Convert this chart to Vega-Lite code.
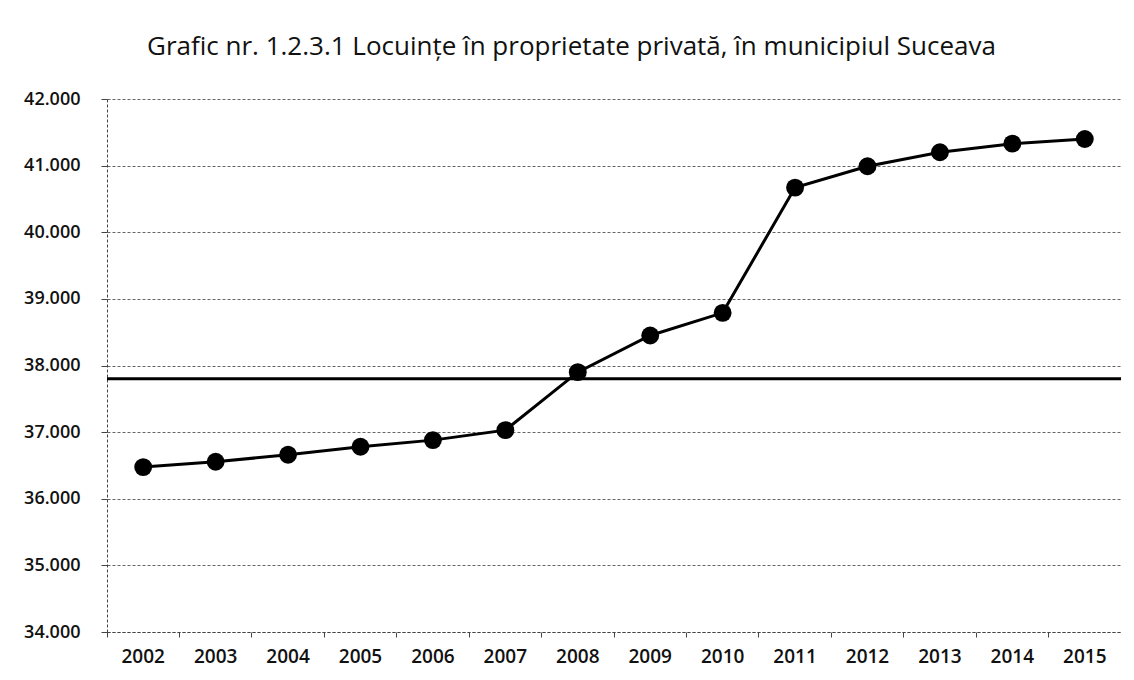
{
  "$schema": "https://vega.github.io/schema/vega-lite/v6.json",
  "width": 1014,
  "height": 533,
  "autosize": "none",
  "padding": {"left": 107, "top": 99, "right": 13, "bottom": 48},
  "background": "white",
  "title": {
    "text": "Grafic nr. 1.2.3.1 Locuințe în proprietate privată, în municipiul Suceava",
    "font": "Open Sans",
    "fontSize": 26,
    "fontWeight": "normal",
    "color": "#111",
    "anchor": "start",
    "frame": "group",
    "dx": 40,
    "offset": 30
  },
  "data": {
    "values": [
      {"an": "2002", "locuinte": 36475},
      {"an": "2003", "locuinte": 36555},
      {"an": "2004", "locuinte": 36660},
      {"an": "2005", "locuinte": 36780},
      {"an": "2006", "locuinte": 36880},
      {"an": "2007", "locuinte": 37030},
      {"an": "2008", "locuinte": 37900},
      {"an": "2009", "locuinte": 38450},
      {"an": "2010", "locuinte": 38790},
      {"an": "2011", "locuinte": 40670},
      {"an": "2012", "locuinte": 40990},
      {"an": "2013", "locuinte": 41200},
      {"an": "2014", "locuinte": 41330},
      {"an": "2015", "locuinte": 41400}
    ]
  },
  "encoding": {
    "x": {
      "field": "an",
      "type": "ordinal",
      "scale": {"type": "band", "paddingInner": 0, "paddingOuter": 0},
      "axis": {
        "title": null,
        "labelAngle": 0,
        "bandPosition": 0,
        "labelFont": "Open Sans",
        "labelFontSize": 19,
        "labelFontWeight": 600,
        "labelColor": "#111",
        "labelPadding": 10,
        "tickSize": 5,
        "tickColor": "#444",
        "domainColor": "#444",
        "domainDash": [3, 2],
        "grid": false
      }
    },
    "y": {
      "field": "locuinte",
      "type": "quantitative",
      "scale": {"domain": [34000, 42000], "nice": false, "zero": false},
      "axis": {
        "title": null,
        "values": [34000, 35000, 36000, 37000, 38000, 39000, 40000, 41000, 42000],
        "labelExpr": "replace(format(datum.value, ','), ',', '.')",
        "labelFont": "Open Sans",
        "labelFontSize": 18,
        "labelFontWeight": 600,
        "labelColor": "#111",
        "labelPadding": 21,
        "tickSize": 6,
        "tickColor": "#444",
        "domainColor": "#444",
        "domainDash": [3, 2],
        "grid": true,
        "gridColor": "#666",
        "gridDash": [3, 2],
        "gridWidth": 1
      }
    }
  },
  "layer": [
    {
      "mark": {"type": "line", "color": "#000", "strokeWidth": 3}
    },
    {
      "mark": {"type": "point", "filled": true, "color": "#000", "opacity": 1, "size": 320}
    },
    {
      "data": {"values": [{"linie": 37800}]},
      "mark": {"type": "rule", "color": "#000", "strokeWidth": 3},
      "encoding": {
        "x": null,
        "y": {"field": "linie", "type": "quantitative"}
      }
    }
  ],
  "config": {
    "view": {"stroke": null}
  }
}
